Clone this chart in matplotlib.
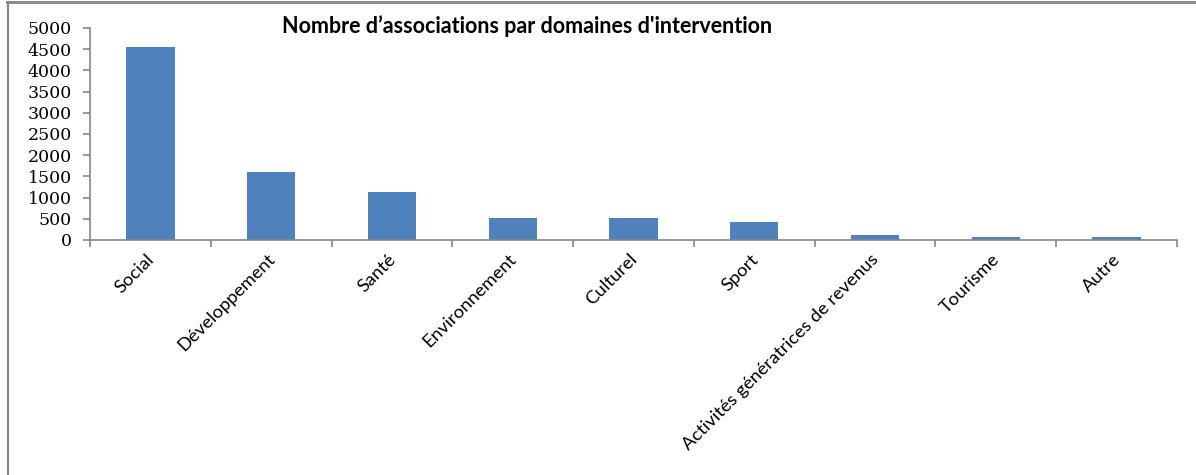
import matplotlib.pyplot as plt
from matplotlib.lines import Line2D

# =========================
# DATA
# =========================

domaines = [
    "Social", "Développement", "Santé", "Environnement", "Culturel",
    "Sport", "Activités génératrices de revenus", "Tourisme", "Autre",
]
nb_associations = [4550, 1600, 1130, 520, 520, 425, 120, 70, 70]
y_ticks = [0, 500, 1000, 1500, 2000, 2500, 3000, 3500, 4000, 4500, 5000]

titre = "Nombre d’associations par domaines d'intervention"

# =========================
# PLOT
# =========================

W, H = 1196, 475
fig = plt.figure(figsize=(W / 100, H / 100), dpi=100)
ax = fig.add_axes([90 / W, 1 - 240 / H, (1177 - 90) / W, 212 / H])

grey = "#868686"
x = range(len(domaines))
ax.bar(x, nb_associations, width=0.4, color="#4F81BD")

ax.set_xlim(-0.5, len(domaines) - 0.5)
ax.set_ylim(0, 5000)
ax.set_yticks(y_ticks)
ax.set_yticklabels([str(v) for v in y_ticks])
for lab in ax.get_yticklabels():
    lab.set_fontfamily("DejaVu Serif")
    lab.set_fontsize(12.5)

# ticks between categories
ax.set_xticks([i - 0.5 for i in range(len(domaines) + 1)])
ax.set_xticklabels([])
ax.tick_params(axis="x", length=5, color=grey, width=1.2)
ax.tick_params(axis="y", length=5, color=grey, width=1.2, pad=8)

for i, lab in enumerate(domaines):
    ax.annotate(lab, xy=(i, 0), xycoords=("data", "axes fraction"),
                xytext=(1, -12), textcoords="offset points",
                rotation=45, rotation_mode="anchor", ha="right", va="center",
                family="Lato", fontsize=13.3)

for side in ["top", "right"]:
    ax.spines[side].set_visible(False)
for side in ["left", "bottom"]:
    ax.spines[side].set_color(grey)
    ax.spines[side].set_linewidth(1.2)

fig.text(527 / W, 1 - 26 / H, titre, ha="center", va="center",
         family="Lato", fontweight="bold", fontsize=15.5)

# outer frame (top and left only)
fig.add_artist(Line2D([7 / W, 1], [1 - 2 / H, 1 - 2 / H], color=grey, lw=2))
fig.add_artist(Line2D([7.5 / W, 7.5 / W], [0, 1 - 2 / H], color=grey, lw=1.5))

plt.savefig("out.png", dpi=100)
